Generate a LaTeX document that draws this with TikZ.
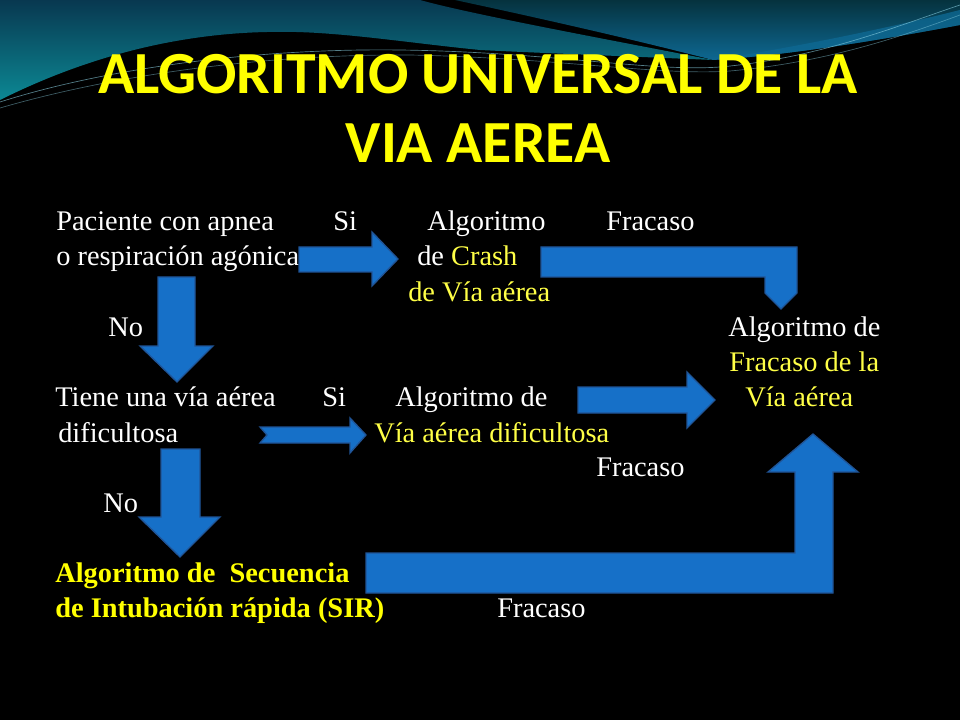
\documentclass[tikz,border=0pt]{standalone}
\usepackage{fontspec}
\setmainfont{Liberation Serif}
\newfontfamily\titlefont{Carlito}
\definecolor{ttl}{RGB}{255,255,0}
\definecolor{yel}{RGB}{255,255,70}
\definecolor{arrfill}{RGB}{22,112,200}
\definecolor{arrline}{RGB}{32,84,150}
\definecolor{tealA}{RGB}{12,136,148}
\definecolor{tealB}{RGB}{8,56,80}
\definecolor{tealC}{RGB}{14,104,146}
\definecolor{tealD}{RGB}{5,50,62}
\definecolor{glow}{RGB}{140,210,228}
\begin{document}
\begin{tikzpicture}[x=0.75pt,y=-0.75pt,
  txt/.style={anchor=base west, inner sep=0pt, text=white, font=\fontsize{21.3}{25}\selectfont},
  ytxt/.style={txt, text=yel},
  btxt/.style={anchor=base west, inner sep=0pt, text=ttl, font=\fontsize{21.3}{25}\selectfont\bfseries},
  ttlstyle/.style={anchor=base, inner sep=0pt, text=ttl, font=\titlefont\bfseries\fontsize{44.8}{50}\selectfont},
  blockarrow/.style={fill=arrfill, draw=arrline, line width=1pt, line join=miter}]
\useasboundingbox (0,0) rectangle (960,720);
\fill[black] (0,0) rectangle (960,720);
% background waves
\shade[top color=tealB, bottom color=tealA]
  (0,0) -- (420,0) .. controls (470,14) and (600,38) .. (713,60)
  .. controls (620,56) and (540,53) .. (480,50)
  .. controls (400,42) and (330,30) .. (267,32)
  .. controls (170,34) and (80,60) .. (0,100) -- cycle;
\shade[top color=tealD, bottom color=tealC]
  (455,0) -- (960,0) -- (960,25) .. controls (880,40) and (790,55) .. (713,60)
  .. controls (620,36) and (520,14) .. (455,0) -- cycle;
\fill[tealC, opacity=0.8]
  (713,60) .. controls (790,55) and (880,40) .. (960,25) -- (960,10)
  .. controls (880,30) and (790,48) .. (713,60) -- cycle;
\draw[glow, opacity=0.6, line width=0.5pt]
  (0,102) .. controls (100,70) and (250,48) .. (400,50) .. controls (550,52) and (650,72) .. (720,67) .. controls (820,58) and (900,25) .. (960,5);
\draw[glow, opacity=0.45, line width=0.5pt]
  (0,108) .. controls (110,76) and (260,54) .. (410,55) .. controls (560,58) and (660,76) .. (730,71) .. controls (830,62) and (905,35) .. (960,15);
% title
\node[ttlstyle] (t1) at (478,94) {ALGORITMO UNIVERSAL DE LA};
\node[ttlstyle] (t2) at (478,163) {VIA AEREA};
% row texts
\node[txt] (r1a) at (56,231) {Paciente con apnea};
\node[txt] (r1b) at (333,231) {Si};
\node[txt] (r1c) at (427,231) {Algoritmo};
\node[txt] (r1d) at (606,231) {Fracaso};
\node[txt] (r2a) at (56,266) {o respiración agónica};
\node[txt] (r2b) at (417,266) {de {\color{yel}Crash}};
\node[ytxt] (r3a) at (408,301) {de Vía aérea};
\node[txt] (r4a) at (108,336) {No};
\node[txt] (r4b) at (728,336) {Algoritmo de};
\node[ytxt] (r5a) at (729,371) {Fracaso de la};
\node[txt] (r6a) at (55,406) {Tiene una vía aérea};
\node[txt] (r6b) at (322,406) {Si};
\node[txt] (r6c) at (395,406) {Algoritmo de};
\node[ytxt] (r6d) at (745,406) {Vía aérea};
\node[txt] (r7a) at (58,442) {dificultosa};
\node[ytxt] (r7b) at (374,442) {Vía aérea dificultosa};
\node[txt] (r8a) at (596,476) {Fracaso};
\node[txt] (r9a) at (103,512) {No};
\node[btxt] (r10a) at (55,582) {Algoritmo de\ \ Secuencia};
\node[btxt] (r11a) at (55,617) {de Intubación rápida (SIR)};
\node[txt] (r11b) at (497,617) {Fracaso};
% block arrows
\draw[blockarrow] (299,247) -- (372,247) -- (372,232) -- (398,259) -- (372,286) -- (372,272) -- (299,272) -- cycle;
\draw[blockarrow] (158,277) -- (195,277) -- (195,346) -- (213,346) -- (177,382) -- (140,346) -- (158,346) -- cycle;
\draw[blockarrow] (541,247) -- (797,247) -- (797,293) -- (781,309) -- (765,293) -- (765,277) -- (541,277) -- cycle;
\draw[blockarrow] (578,387) -- (687,387) -- (687,372) -- (715,400) -- (687,428) -- (687,413) -- (578,413) -- cycle;
\draw[blockarrow] (260,427) -- (350,427) -- (350,418) -- (366,435) -- (350,453) -- (350,443) -- (260,443) -- (267,435) -- cycle;
\draw[blockarrow] (161,449) -- (200,449) -- (200,517) -- (220,517) -- (180,557) -- (139,517) -- (161,517) -- cycle;
\draw[blockarrow] (366,553) -- (795,553) -- (795,472) -- (768,472) -- (813,434) -- (858,472) -- (833,472) -- (833,593) -- (366,593) -- cycle;
\end{tikzpicture}
\end{document}
